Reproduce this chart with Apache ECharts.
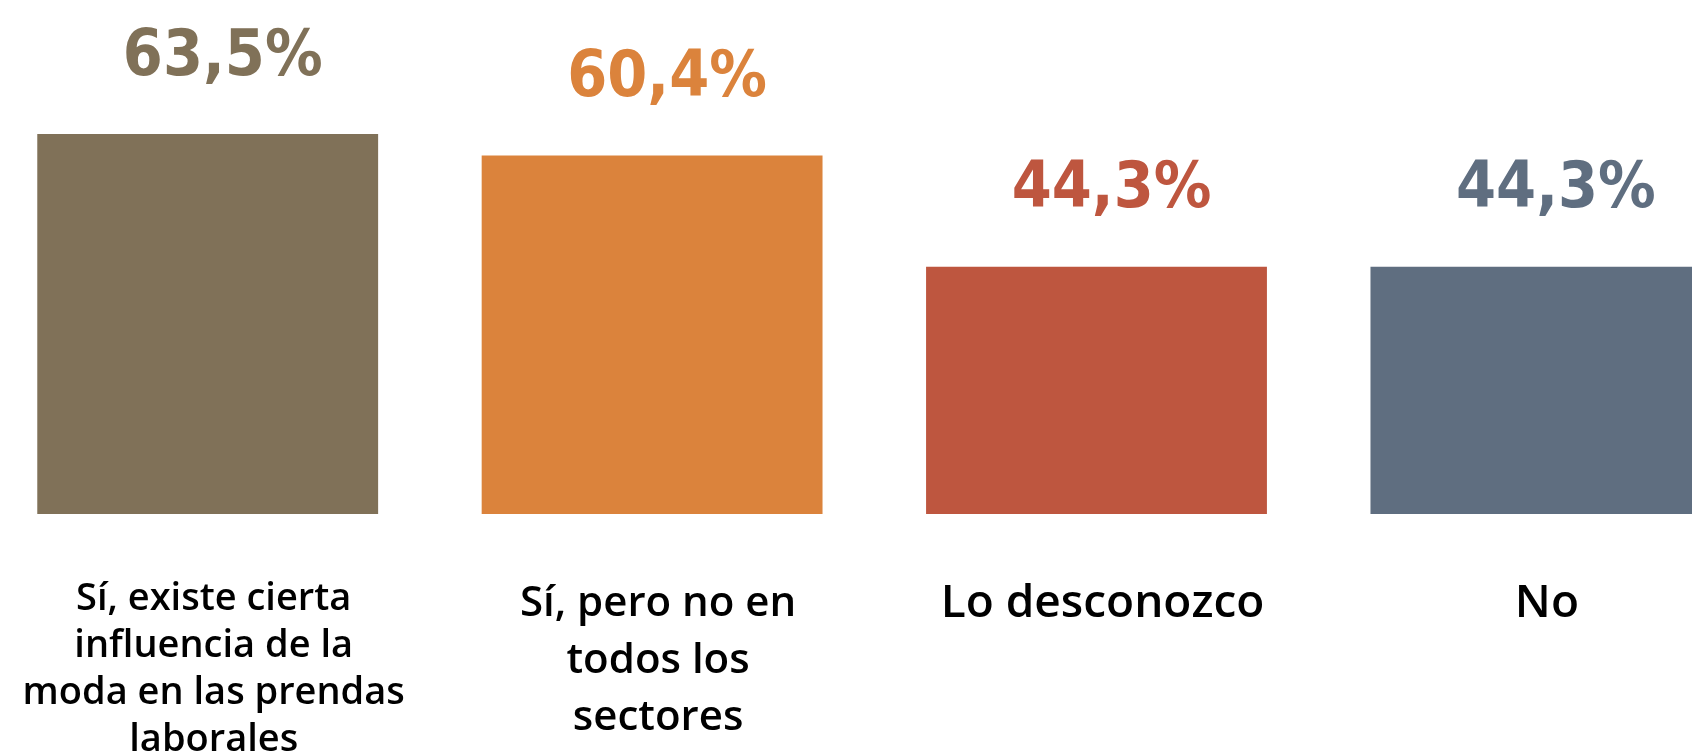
<!DOCTYPE html>
<html>
<head>
<meta charset="utf-8">
<script src="https://cdn.jsdelivr.net/npm/echarts@6/dist/echarts.min.js"></script>
<style>
  html, body { margin: 0; padding: 0; background: #ffffff; }
  #chart { width: 1692px; height: 756px; }
</style>
</head>
<body>
<div id="chart"></div>
<script>
// data
const categories = [
  'Sí, existe cierta\ninfluencia de la\nmoda en las prendas\nlaborales',
  'Sí, pero no en\ntodos los\nsectores',
  'Lo desconozco',
  'No'
];
const values = [63.5, 60.4, 44.3, 44.3];
const barColors = ['#807158', '#DB833C', '#BE563F', '#5F6E80'];

// each category label was fitted to its own size in the original
const catText = [
  { fontSize: 38, lineHeight: 47 },
  { fontSize: 42, lineHeight: 57 },
  { fontSize: 46, lineHeight: 55 },
  { fontSize: 46, lineHeight: 55 }
];

const chart = echarts.init(document.getElementById('chart'));

const fmt = (v) => v.toFixed(1).replace('.', ',') + '%';

const option = {
  backgroundColor: '#ffffff',
  animation: false,
  // last bar runs off the right edge in the original
  grid: {
    left: -14.5, width: 1777.6, top: 20, bottom: 242,
    containLabel: false,
    outerBoundsMode: 'none'
  },
  xAxis: {
    type: 'category',
    data: categories.map((c, i) => ({ value: c, textStyle: catText[i] })),
    axisLine: { show: false },
    axisTick: { show: false },
    axisLabel: {
      interval: 0,
      margin: 62,
      padding: [0, 0, 0, 12],
      color: '#000000',
      fontFamily: '"Open Sans", "Noto Sans", sans-serif',
      fontWeight: 600,
      align: 'center',
      verticalAlign: 'top'
    }
  },
  yAxis: {
    type: 'value',
    min: 8.5,
    max: 80,
    show: false,
    splitLine: { show: false }
  },
  series: [{
    type: 'bar',
    barCategoryGap: '23.3%',
    data: values.map((v, i) => ({
      value: v,
      itemStyle: { color: barColors[i] },
      label: { color: barColors[i] }
    })),
    label: {
      show: true,
      position: 'top',
      distance: 44,
      offset: [15, 0],
      formatter: (p) => fmt(p.value),
      fontFamily: '"DejaVu Sans Condensed", "DejaVu Sans", sans-serif',
      fontWeight: 'bold',
      fontSize: 64
    }
  }]
};

chart.setOption(option);
</script>
</body>
</html>
